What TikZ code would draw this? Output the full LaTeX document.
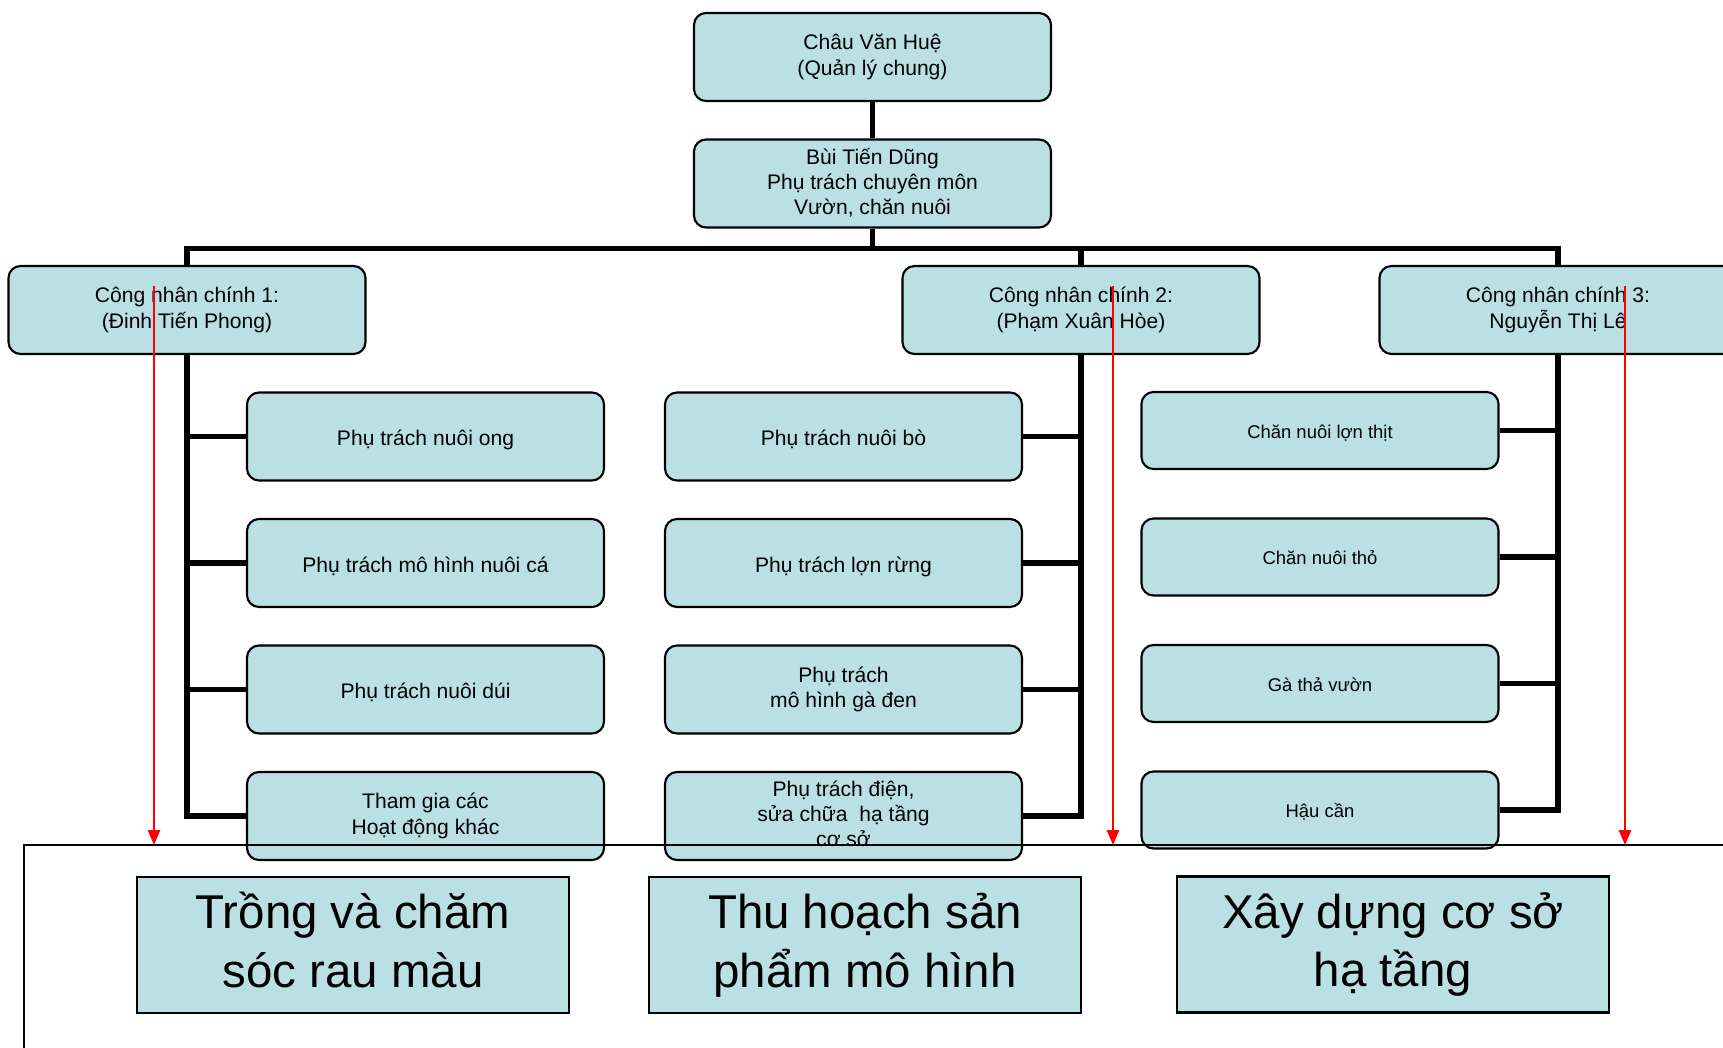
\documentclass[tikz,border=0pt]{standalone}
\usepackage{fontspec}
\setmainfont{Liberation Sans}
\usepackage{xcolor}
\usepackage{tikz}
\usetikzlibrary{shapes.geometric, arrows.meta}
\definecolor{boxblue}{RGB}{186,224,227}
\newcommand{\toprule}{\rule{0pt}{1.07em}}
\newcommand{\bigtoprule}{\rule{0pt}{1.2em}}
\newcommand{\lowrule}{\rule[-0.212em]{0pt}{0.212em}}
\tikzstyle{person} = [rectangle, rounded corners=0.24cm, minimum width=7.14cm, minimum height=1.76cm, align=center, draw=black, line width=1.2pt, fill=boxblue, font=\fontsize{12}{14.3}\selectfont, execute at begin node=\toprule, execute at end node=\lowrule]
\tikzstyle{task} = [person, minimum height=1.54cm, font=\fontsize{10.5}{12.6}\selectfont]
\tikzstyle{work} = [rectangle, minimum width=8.64cm, minimum height=2.72cm, align=center, draw=black, line width=1.2pt, fill=boxblue, font=\fontsize{27}{33.4}\selectfont, execute at begin node=\bigtoprule, execute at end node=\lowrule]
\tikzstyle{link} = [line width=3pt]
\tikzstyle{redarrow} = [red, line width=1pt, -{Triangle[length=8.5pt,width=7pt]}]
\tikzstyle{bigframe} = [black, line width=1pt]

\begin{document}
\begin{tikzpicture}[node distance=2.53cm]
\clip (0,0) rectangle (34.46,-20.96);
\fill [white] (0,0) rectangle (34.46,-20.96);

\node (hue) [person] at (17.45,-1.14) {Châu Văn Huệ\\(Quản lý chung)};
\node (dung) [person, below of=hue] {Bùi Tiến Dũng\\Phụ trách chuyên môn\\Vườn, chăn nuôi};
\node (cn2) [person, below of=dung, xshift=4.17cm] {Công nhân chính 2:\\(Phạm Xuân Hòe)};
\node (cn1) [person, left of=cn2, xshift=-15.35cm] {Công nhân chính 1:\\(Đinh Tiến Phong)};
\node (cn3) [person, right of=cn2, xshift=7.01cm] {Công nhân chính 3:\\Nguyễn Thị Lê};

\node (l1) [person, below of=cn1, xshift=4.77cm] {Phụ trách nuôi ong};
\node (l2) [person, below of=l1] {Phụ trách mô hình nuôi cá};
\node (l3) [person, below of=l2] {Phụ trách nuôi dúi};
\node (l4) [person, below of=l3] {Tham gia các\\Hoạt động khác};

\node (m1) [person, below of=cn2, xshift=-4.75cm] {Phụ trách nuôi bò};
\node (m2) [person, below of=m1] {Phụ trách lợn rừng};
\node (m3) [person, below of=m2] {Phụ trách\\mô hình gà đen};
\node (m4) [person, below of=m3] {Phụ trách điện,\\sửa chữa~ hạ tầng\\cơ sở};

\node (r1) [task, below of=cn3, xshift=-4.76cm, yshift=0.12cm] {Chăn nuôi lợn thịt};
\node (r2) [task, below of=r1] {Chăn nuôi thỏ};
\node (r3) [task, below of=r2] {Gà thả vườn};
\node (r4) [task, below of=r3] {Hậu cần};

\draw [link] (hue) -- (dung);
\draw [link] (dung.south) -- ++(0,-0.4) -| (cn1.north);
\draw [link] (dung.south) -- ++(0,-0.4) -| (cn2.north);
\draw [link] (dung.south) -- ++(0,-0.4) -| (cn3.north);

\draw [link] (cn1.south) |- (l1.west);
\draw [link] (cn1.south) |- (l2.west);
\draw [link] (cn1.south) |- (l3.west);
\draw [link] (cn1.south) |- (l4.west);
\draw [link] (cn2.south) |- (m1.east);
\draw [link] (cn2.south) |- (m2.east);
\draw [link] (cn2.south) |- (m3.east);
\draw [link] (cn2.south) |- (m4.east);
\draw [link] (cn3.south) |- (r1.east);
\draw [link] (cn3.south) |- (r2.east);
\draw [link] (cn3.south) |- (r3.east);
\draw [link] (cn3.south) |- (r4.east);

% frame round the three jobs
\coordinate (corner) at (0.48,-16.9);
\draw [bigframe] (corner) rectangle ++(36,-6);

\coordinate (a1) at (3.08,-5.72);
\coordinate (a2) at (22.26,-5.72);
\coordinate (a3) at (32.5,-5.72);
\draw [redarrow] (a1) -- (a1 |- corner);
\draw [redarrow] (a2) -- (a2 |- corner);
\draw [redarrow] (a3) -- (a3 |- corner);

\node (job1) [work, below of=l4, xshift=-1.45cm, yshift=-0.05cm] {Trồng và chăm\\sóc rau màu};
\node (job2) [work, below of=m4, xshift=0.43cm, yshift=-0.05cm] {Thu hoạch sản\\phẩm mô hình};
\node (job3) [work, below of=r4, xshift=1.46cm, yshift=-0.16cm] {Xây dựng cơ sở\\hạ tầng};

\end{tikzpicture}
\end{document}
